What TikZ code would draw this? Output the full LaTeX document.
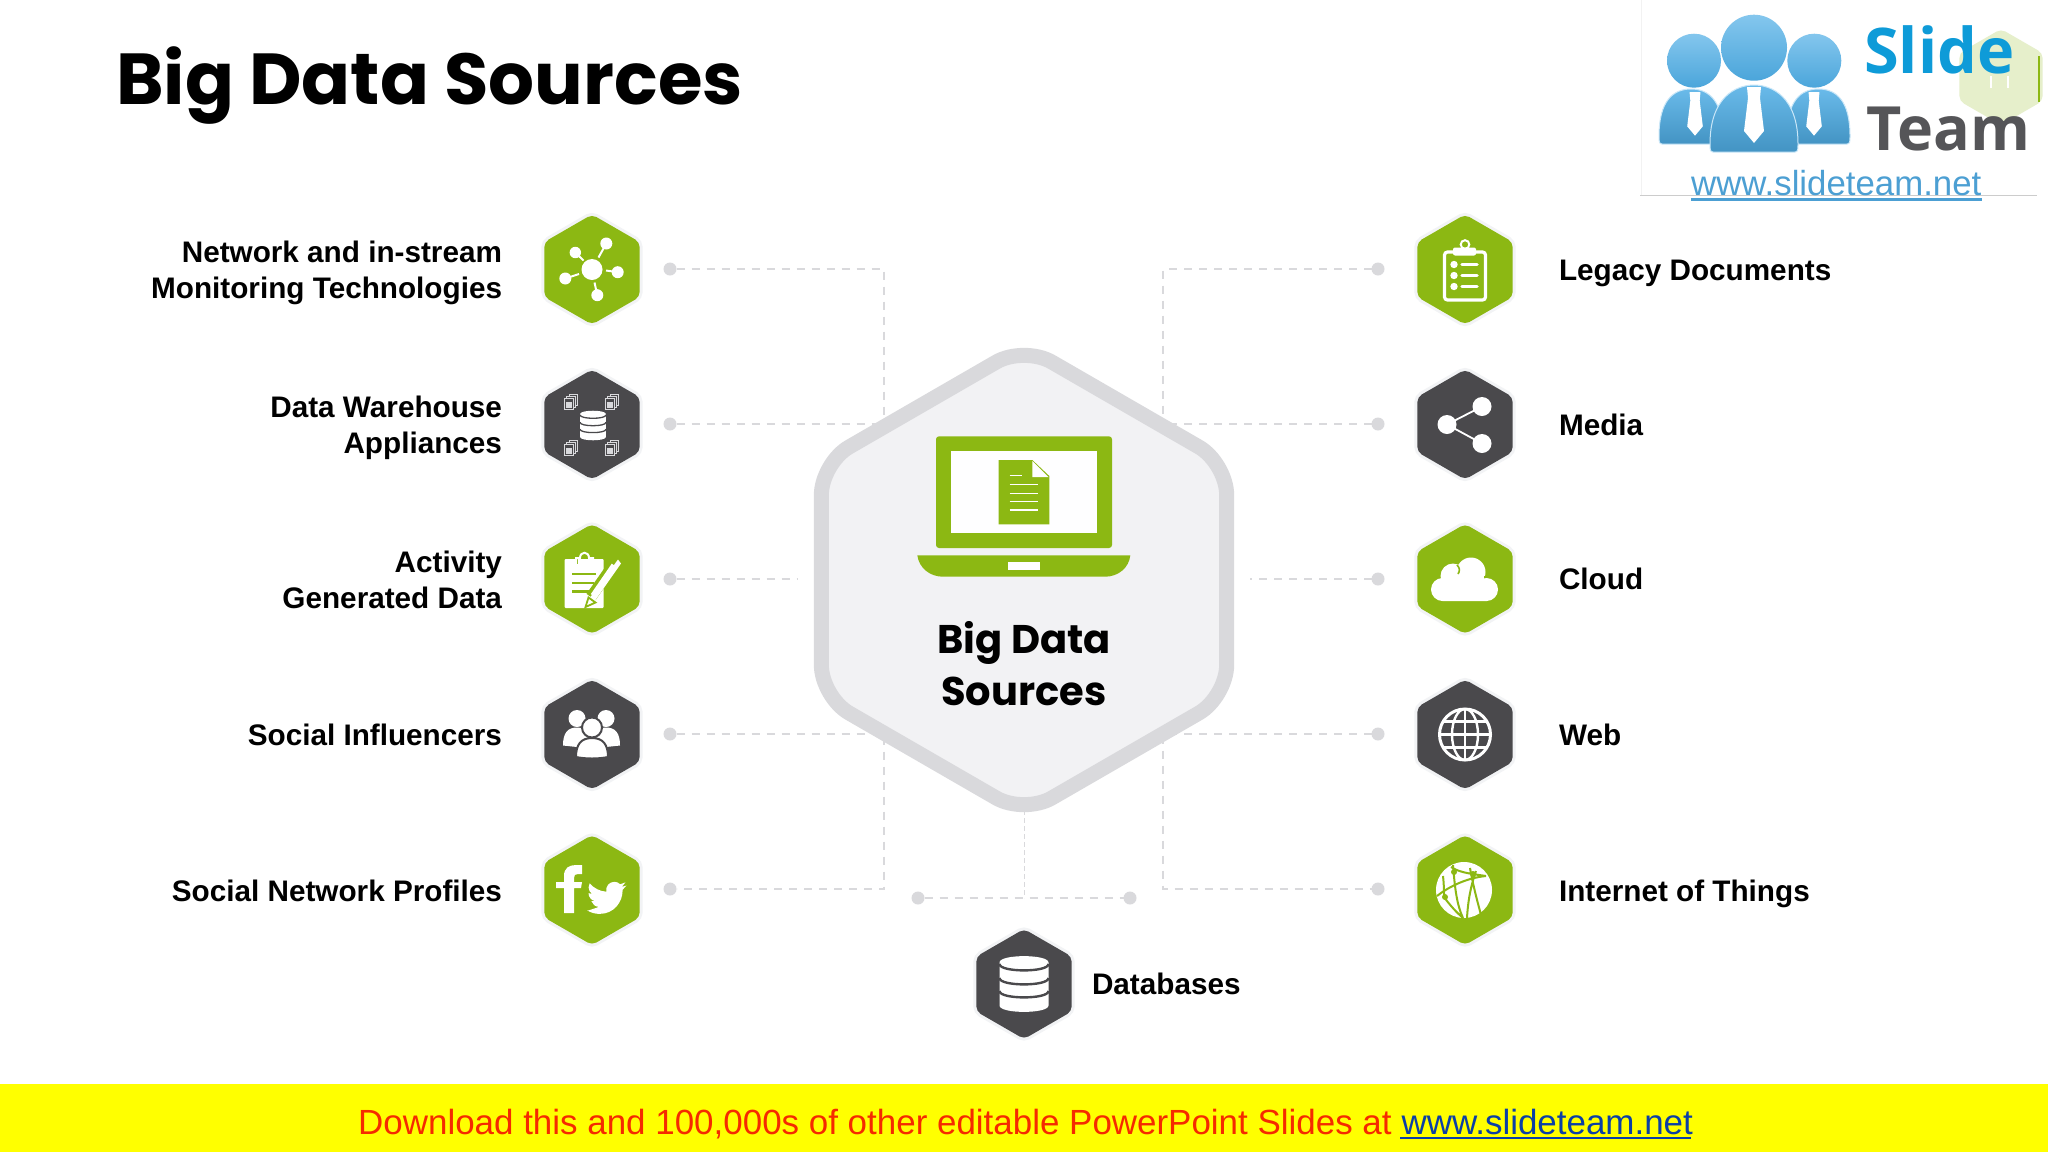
\documentclass[tikz,border=0pt]{standalone}
\usepackage{fontspec}
\setmainfont{Liberation Sans}
\newfontfamily\titlefont{Poppins}
\newfontfamily\logofont{Open Sans}
\usetikzlibrary{shapes.geometric}
\definecolor{gr}{HTML}{8CB813}
\definecolor{dk}{HTML}{4A494C}
\definecolor{halo}{HTML}{F2F3F5}
\definecolor{ln}{HTML}{D9D9DC}
\definecolor{hubfill}{HTML}{F2F2F4}
\definecolor{redtxt}{HTML}{F52A00}
\definecolor{linktxt}{HTML}{0B3FA6}
\definecolor{logoblue}{HTML}{4FAEE6}
\definecolor{logotxt}{HTML}{0E9BD8}
\definecolor{logogrey}{HTML}{555558}
\definecolor{logourl}{HTML}{4C9FD3}
\definecolor{barfill}{HTML}{FFFF00}
\tikzset{
 hexn/.style={shape=regular polygon,regular polygon sides=6,shape border rotate=30,minimum size=110pt,inner sep=0pt,outer sep=0pt,rounded corners=5pt,preaction={draw=halo,line width=6pt}},
 hexg/.style={hexn,fill=gr},
 hexd/.style={hexn,fill=dk},
 hub/.style={shape=regular polygon,regular polygon sides=6,shape border rotate=30,minimum size=468pt,inner sep=0pt,outer sep=0pt,draw=ln,line width=15pt,fill=hubfill,rounded corners=32pt},
 dotn/.style={circle,fill=ln,minimum size=13pt,inner sep=0pt,outer sep=0pt},
 conn/.style={draw=ln,line width=1.6pt,dash pattern=on 8pt off 7pt},
 connthin/.style={draw=ln,line width=1pt,dash pattern=on 5pt off 3pt},
 lab/.style={font=\fontsize{29.7}{36}\selectfont\bfseries,text=black,inner sep=0pt,outer sep=0pt},
 labr/.style={lab,anchor=east,align=right},
 labl/.style={lab,anchor=base west},
}
\newcommand\dbcyl[2]{%
 \fill[white] (-24.5,-21.5) .. controls (-24.5,-30) and (24.5,-30) .. (24.5,-21.5) -- (24.5,21.5) .. controls (24.5,30) and (-24.5,30) .. (-24.5,21.5) -- cycle;
 \foreach \yy in {-20,-6,7}{\draw[#1,line width=#2] (-24.5,\yy) .. controls (-24.5,\yy+8.5) and (24.5,\yy+8.5) .. (24.5,\yy);}
}
\newcommand\smalldoc[2]{%
 \begin{scope}[shift={(#1,#2)},draw=ln,line width=.9pt]
 \draw[fill=dk] (-2,-7.5) -- (6.5,-7.5) -- (6.5,4) -- (-2,4) -- cycle;
 \draw[fill=dk] (-4.5,-5.5) -- (4,-5.5) -- (4,6) -- (-4.5,6) -- cycle;
 \draw[fill=dk] (-6.5,-3.5) -- (2,-3.5) -- (2,7.5) -- (-6.5,7.5) -- cycle;
 \fill[ln] (-5,0) rectangle (.5,6);
 \end{scope}}
\newcommand\logobody[4]{%
 \path[draw=white!70!logoblue,line width=1pt,top color=logoblue!85!white,bottom color=logoblue!85!black] (#1+3,#4) -- (#2-3,#4) .. controls (#2,#4) and (#2,#4-3) .. (#2,#4-8) .. controls (#2,#3+12) and ({(#1+#2)/2+18},#3) .. ({(#1+#2)/2},#3) .. controls ({(#1+#2)/2-18},#3) and (#1,#3+12) .. (#1,#4-8) .. controls (#1,#4-3) and (#1,#4) .. (#1+3,#4) -- cycle;}
\newcommand\logotie[3]{%
 \fill[white] (#1-7*#3,#2) -- (#1+7*#3,#2) -- (#1+6*#3,#2+11*#3) -- (#1+10*#3,#2+44*#3) -- (#1,#2+56*#3) -- (#1-10*#3,#2+44*#3) -- (#1-6*#3,#2+11*#3) -- cycle;}
\begin{document}
\begin{tikzpicture}[x=1pt,y=-1pt]
\useasboundingbox (0,0) rectangle (2048,1152);
\fill[white] (0,0) rectangle (2048,1152);

% title
\node[anchor=base west,inner sep=0pt,font=\fontsize{72.2}{80}\selectfont\titlefont\bfseries] (title) at (116,104) {Big Data Sources};

% logo
\draw[black!5,line width=1pt] (1641,0) -- (1641,195);
\draw[black!20,line width=1pt] (1640,195) -- (2037,195);
\node[shape=regular polygon,regular polygon sides=6,shape border rotate=30,minimum size=96pt,inner sep=0pt,outer sep=0pt,fill=gr!22!white,rounded corners=5pt] (ghost) at (2001,77) {};
\draw[gr,line width=2pt] (2038.5,56) -- (2038.5,102);
\shade[top color=logoblue!70!white,bottom color=logoblue!95!black] (1694,60.7) circle[radius=27pt];
\shade[top color=logoblue!70!white,bottom color=logoblue!95!black] (1814.3,60.7) circle[radius=27pt];
\shade[top color=logoblue!70!white,bottom color=logoblue!95!black] (1754,47.7) circle[radius=33pt];
\logobody{1659}{1723}{89}{144}
\logobody{1787}{1850}{89}{144}
\logobody{1710}{1798}{85}{152}
\logotie{1695}{92}{0.78}
\logotie{1814}{92}{0.78}
\logotie{1754}{87}{1}
\node[anchor=base west,inner sep=0pt,text=logotxt,font=\fontsize{63}{70}\selectfont\logofont\bfseries] (slide) at (1864,73) {Slide};
\node[anchor=base west,inner sep=0pt,text=logogrey,font=\fontsize{61}{70}\selectfont\logofont\bfseries] (team) at (1866,150) {Team};
\node[anchor=base west,inner sep=0pt,text=logourl,font=\fontsize{34.8}{36}\selectfont] (url) at (1691,195) {www.slideteam.net};
\draw[logourl,line width=2.5pt] (1691,199.5) -- (1982,199.5);
\draw[white,line width=1.5pt] (1991,76) -- (1991,88) (2008,76) -- (2008,88);

% connector ends
\node[dotn] (dl1) at (670,269) {};
\node[dotn] (dl2) at (670,424) {};
\node[dotn] (dl3) at (670,579) {};
\node[dotn] (dl4) at (670,734) {};
\node[dotn] (dl5) at (670,889) {};
\node[dotn] (dr1) at (1378,269) {};
\node[dotn] (dr2) at (1378,424) {};
\node[dotn] (dr3) at (1378,579) {};
\node[dotn] (dr4) at (1378,734) {};
\node[dotn] (dr5) at (1378,889) {};
\node[dotn] (db1) at (918,898) {};
\node[dotn] (db2) at (1130,898) {};
\coordinate (cl1) at (884,269);
\coordinate (cl2) at (884,424);
\coordinate (cl4) at (884,734);
\coordinate (cl5) at (884,889);
\coordinate (cr1) at (1163,269);
\coordinate (cr2) at (1163,424);
\coordinate (cr4) at (1163,734);
\coordinate (cr5) at (1163,889);
\coordinate (cl3) at (798,579);
\coordinate (cr3) at (1250,579);
\coordinate (cb) at (1024,898);
\coordinate (ct) at (1024,810);
\draw[conn] (dl1) -- (cl1) -- (cl5) -- (dl5);
\draw[conn] (dr1) -- (cr1) -- (cr5) -- (dr5);
\draw[conn] (dl2) -- (cl2);
\draw[conn] (dl4) -- (cl4);
\draw[conn] (dr2) -- (cr2);
\draw[conn] (dr4) -- (cr4);
\draw[conn] (dl3) -- (cl3);
\draw[conn] (dr3) -- (cr3);
\draw[conn] (db1) -- (db2);
\draw[connthin] (ct) -- (cb);

% hub
\node[hub] (hubn) at (1024,580) {};
\fill[gr,rounded corners=3pt] (936,436.3) rectangle (1112,548);
\fill[white!97!hubfill] (951,451.3) rectangle (1097,532.7);
\fill[gr] (917.3,555.3) -- (1130.3,555.3) .. controls (1129,568) and (1118,576.7) .. (1105,576.7) -- (943,576.7) .. controls (930,576.7) and (919,568) .. (917.3,555.3) -- cycle;
\fill[white!97!hubfill] (1008,562) rectangle (1040,570);
\fill[gr] (998.7,460) -- (1032.3,460) -- (1049.3,476) -- (1049.3,524.3) -- (998.7,524.3) -- cycle;
\fill[white!97!hubfill] (1032.3,461) -- (1032.3,477) -- (1048.5,477) -- cycle;
\draw[white,line width=1.4pt] (1009.5,475.7) -- (1022,475.7) (1009.5,484.3) -- (1038.3,484.3) (1009.5,493.3) -- (1038.3,493.3) (1009.5,501.7) -- (1038.3,501.7) (1009.5,510) -- (1038.3,510);
\node[align=center,inner sep=0pt,font=\fontsize{40}{52}\selectfont\titlefont\bfseries] (hubt) at (1024,664) {Big Data\\Sources};

% left hexagons
\node[hexg] (h1) at (592,269.5) {};
\begin{scope}[shift={(h1.center)}]
 \fill[white] (0,0) circle[radius=10.5pt] (14.3,-26) circle[radius=6pt] (-16.7,-17) circle[radius=5.7pt] (25.7,2.7) circle[radius=6pt] (-26.7,9) circle[radius=6pt] (5.3,25.7) circle[radius=6pt];
 \draw[white,line width=2pt] (6.5,-12) -- (14.3,-26) (-8.5,-9) -- (-16.7,-17) (14,1) -- (25.7,2.7) (-13,4.5) -- (-26.7,9) (2.5,13) -- (5.3,25.7);
\end{scope}
\node[hexd] (h2) at (592,424.5) {};
\begin{scope}[shift={(h2.center)}]
 \begin{scope}[shift={(1,1)},scale=.53] \dbcyl{dk}{1.3pt} \end{scope}
 \smalldoc{-21}{-23}\smalldoc{20}{-23}\smalldoc{-21}{23}\smalldoc{20}{23}
\end{scope}
\node[hexg] (h3) at (592,579) {};
\begin{scope}[shift={(h3.center)}]
 \fill[white,rounded corners=1pt] (-27.3,-20) rectangle (11.7,29);
 \draw[white,line width=2pt,fill=gr] (-16,-14) -- (-16,-21) -- (-12,-21) .. controls (-12,-28) and (-3,-28) .. (-3,-21) -- (1,-21) -- (1,-14) -- cycle;
 \fill[white] (-14.5,-15.5) rectangle (-.5,-20);
 \draw[gr,line width=2.6pt] (-20,-5) -- (4,-5) (-20,4) -- (2,4) (-20,12.3) -- (-3,12.3);
 \draw[gr,line width=11pt] (24.3,-18.3) -- (-1,18);
 \fill[white] (26,-19.5) -- (29,-15.5) -- (2,23) -- (-3,20) -- cycle;
 \fill[white] (-2.5,19) -- (3,23) -- (-6,27) -- cycle;
 \draw[gr,line width=1.8pt] (-3.5,18.5) -- (3.5,23.5) -- (-6.5,28) -- cycle;
 \draw[white,line width=3pt] (21,-14.5) -- (0,16);
\end{scope}
\node[hexd] (h4) at (592,734.5) {};
\begin{scope}[shift={(h4.center)}]
 \fill[white] (-15,-16) circle[radius=8.5pt] (14,-16) circle[radius=8.5pt];
 \fill[white] (-29,11) .. controls (-29,-2) and (-24,-7) .. (-15,-7) .. controls (-6,-7) and (-1,0) .. (-1,14) -- (-1,14) -- cycle;
 \fill[white] (28,11) .. controls (28,-2) and (23,-7) .. (14,-7) .. controls (5,-7) and (0,0) .. (0,14) -- cycle;
 \filldraw[white,draw=dk,line width=2pt] (0,-7) circle[radius=10pt];
 \filldraw[white,draw=dk,line width=2pt] (-16,22.5) .. controls (-16,10) and (-11,3.5) .. (0,3.5) .. controls (11,3.5) and (16,10) .. (16,22.5) .. controls (6,24.5) and (-6,24.5) .. (-16,22.5) -- cycle;
\end{scope}
\node[hexg] (h5) at (592,890) {};
\begin{scope}[shift={(h5.center)}]
 \fill[white] (-28,23) -- (-28,-2) -- (-36,-2) -- (-36,-8) -- (-28,-8) -- (-28,-14) .. controls (-28,-22) and (-23,-25) .. (-16,-25) -- (-10,-25) -- (-10,-16) -- (-14,-16) .. controls (-17,-16) and (-18,-15) .. (-18,-12) -- (-18,-8) -- (-10,-8) -- (-11,-2) -- (-18,-2) -- (-18,23) -- cycle;
 \begin{scope}[shift={(-5,-12)},scale=1.65]
 \fill[white] (23.95,4.57) -- (21.13,5.35) -- (23.29,2.62) -- (20.16,3.81) .. controls (19.2,2.8) and (17.9,2.3) .. (16.56,2.3) .. controls (13.4,2.3) and (11.1,5.2) .. (11.78,8.29) .. controls (7.69,8.095) and (4.067,6.13) .. (1.64,3.162) .. controls (1.2,3.9) and (.97,4.75) .. (.97,5.64) .. controls (.97,7.35) and (1.84,8.85) .. (3.16,9.73) -- (.93,9.12) -- (.93,9.18) .. controls (.93,11.5) and (2.6,13.6) .. (4.88,14) -- (2.66,14.09) .. controls (3.3,16) and (5.1,17.45) .. (7.27,17.5) -- (1.17,19.6) -- (0,19.54) .. controls (2.2,20.95) and (4.8,21.75) .. (7.56,21.75) .. controls (16.61,21.75) and (21.56,14.26) .. (21.55,7.76) -- (21.54,7.13) -- cycle;
 \end{scope}
\end{scope}

% right hexagons
\node[hexg] (r1) at (1465,269.5) {};
\begin{scope}[shift={(r1.center)}]
 \draw[white,line width=3.2pt,rounded corners=3pt] (-20.5,-17.5) rectangle (20.5,30.5);
 \draw[white,line width=2pt] (0,-25) circle[radius=4.3pt];
 \fill[white,rounded corners=2pt] (-12,-22) rectangle (11,-14);
 \fill[white] (-11,-5) circle[radius=3.7pt] (-11,6) circle[radius=3.7pt] (-11,17) circle[radius=3.7pt];
 \draw[white,line width=3.5pt,line cap=round] (-3,-5) -- (12,-5) (-3,6) -- (12,6) (-3,17) -- (12,17);
\end{scope}
\node[hexd] (r2) at (1465,424.5) {};
\begin{scope}[shift={(r2.center)}]
 \coordinate (sa) at (-18,0); \coordinate (sb) at (17,-18); \coordinate (sc) at (17,19);
 \fill[white] (sa) circle[radius=9.5pt] (sb) circle[radius=9.5pt] (sc) circle[radius=9.5pt];
 \draw[white,line width=1.8pt] (sb) -- (sa) -- (sc);
\end{scope}
\node[hexg] (r3) at (1465,579) {};
\begin{scope}[shift={(r3.center)}]
 \fill[white] (-22.5,10.5) circle[radius=11.5pt] (21.5,10.5) circle[radius=11.5pt] (-12,-3) circle[radius=12.5pt] (6,-7) circle[radius=14.5pt];
 \fill[white] (-22.5,0) rectangle (21.5,22) (-5,-5) rectangle (16,10) (-12,-5) rectangle (6,10);
 \draw[gr,line width=1.6pt] (-8,-14) .. controls (-5,-11) and (-5,-8) .. (-7,-5);
 \draw[gr,line width=1.6pt] (19,-2) -- (24,-2);
\end{scope}
\node[hexd] (r4) at (1465,734.5) {};
\begin{scope}[shift={(r4.center)}]
 \draw[white,line width=3pt] (0,0) circle[radius=25.5pt];
 \draw[white,line width=2.4pt] (0,0) circle[x radius=13pt,y radius=25.5pt];
 \draw[white,line width=2.4pt] (0,-25.5) -- (0,25.5) (-25.5,0) -- (25.5,0) (-22,-13) -- (22,-13) (-22,13) -- (22,13);
\end{scope}
\node[hexg] (r5) at (1465,890) {};
\begin{scope}[shift={(r5.center)}]
 \fill[white] (-1,0) circle[radius=28pt];
 \draw[gr,line width=2pt] (-12,-25) .. controls (-10,0) and (-8,15) .. (-2,28) (21,-14) .. controls (0,-12) and (-18,-2) .. (-28,6) (5,-22) .. controls (8,-5) and (12,10) .. (16,25) (2,28) .. controls (3,10) and (6,-5) .. (11,-19) (-21,7) .. controls (-16,14) and (-9,22) .. (-2,28) (-22,-14) .. controls (-21,-5) and (-21,2) .. (-21,7) (-14,-23) .. controls (-5,-17) and (8,-16) .. (21,-14);
 \fill[gr] (-11,-18) circle[radius=3pt] (8,-16) circle[radius=3pt] (-20,7) circle[radius=3pt];
\end{scope}
\node[hexd] (bh) at (1024,984) {};
\begin{scope}[shift={(bh.center)}]
 \dbcyl{dk}{2.4pt}
\end{scope}

% labels
\node[labr] (l1) at (502,272.5) {Network and in-stream\\Monitoring Technologies};
\node[labr] (l2) at (502,427.5) {Data Warehouse\\Appliances};
\node[labr] (l3) at (502,579.5) {Activity\\Generated Data};
\node[anchor=base east,lab] (l4) at (502,745) {Social Influencers};
\node[anchor=base east,lab] (l5) at (502,901) {Social Network Profiles};
\node[labl] (t1) at (1559,280) {Legacy Documents};
\node[labl] (t2) at (1559,435) {Media};
\node[labl] (t3) at (1559,589) {Cloud};
\node[labl] (t4) at (1559,745) {Web};
\node[labl] (t5) at (1559,901) {Internet of Things};
\node[labl] (t6) at (1092,994) {Databases};

% footer bar
\fill[barfill] (0,1084) rectangle (2048,1152);
\node[anchor=base west,inner sep=0pt,font=\fontsize{34.95}{40}\selectfont,text=redtxt] (bar) at (358,1134) {Download this and 100,000s of other editable PowerPoint Slides at \textcolor{linktxt}{www.slideteam.net}};
\draw[linktxt,line width=2.4pt] (1400,1138) -- (1691,1138);
\end{tikzpicture}
\end{document}
